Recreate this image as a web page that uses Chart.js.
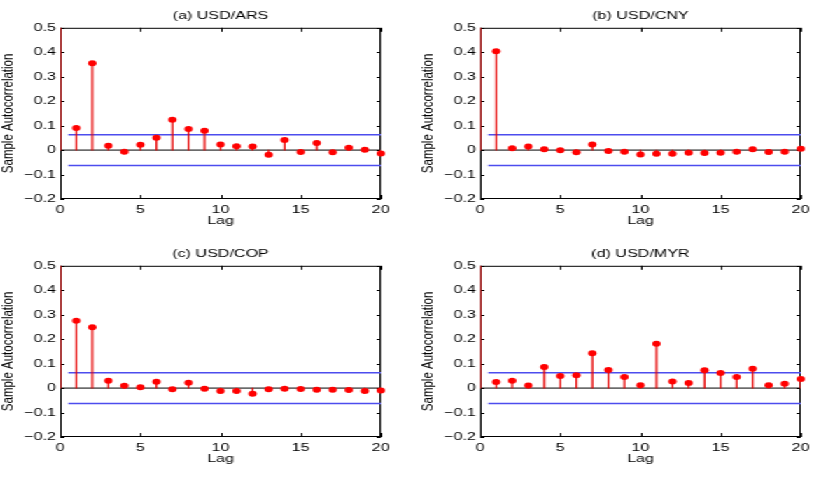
<!DOCTYPE html>
<html>
<head>
<meta charset="utf-8">
<script src="https://cdn.jsdelivr.net/npm/chart.js@4.4.0/dist/chart.umd.min.js"></script>
<style>
  html, body { margin: 0; padding: 0; background: #fff; overflow: hidden; }
  /* the original figure is stretched sideways, so draw narrow and widen */
  #stage { position: absolute; left: 0; top: 0; width: 584px; height: 478px; transform: scaleX(1.4); transform-origin: 0 0; }
  #stage canvas { position: absolute; }
</style>
</head>
<body>
<div id="stage">
  <canvas id="p-ars" width="284" height="235" style="left:0;top:0"></canvas>
  <canvas id="p-cny" width="284" height="235" style="left:300px;top:0"></canvas>
  <canvas id="p-cop" width="284" height="235" style="left:0;top:238px"></canvas>
  <canvas id="p-myr" width="284" height="235" style="left:300px;top:238px"></canvas>
</div>
<script>
const lags = [0, 1, 2, 3, 4, 5, 6, 7, 8, 9, 10, 11, 12, 13, 14, 15, 16, 17, 18, 19, 20];

const acfARS = [1, 0.090, 0.355, 0.018, -0.007, 0.022, 0.050, 0.124, 0.086, 0.079, 0.023,
                0.016, 0.015, -0.019, 0.041, -0.008, 0.029, -0.009, 0.010, 0.001, -0.014];
const acfCNY = [1, 0.404, 0.008, 0.015, 0.003, -0.001, -0.009, 0.023, -0.004, -0.007, -0.018,
                -0.015, -0.015, -0.011, -0.012, -0.011, -0.007, 0.003, -0.008, -0.007, 0.005];
const acfCOP = [1, 0.275, 0.249, 0.030, 0.010, 0.003, 0.026, -0.005, 0.022, -0.003, -0.012,
                -0.012, -0.023, -0.005, -0.003, -0.004, -0.007, -0.007, -0.008, -0.012, -0.010];
const acfMYR = [1, 0.025, 0.030, 0.011, 0.086, 0.049, 0.052, 0.142, 0.074, 0.045, 0.012,
                0.181, 0.027, 0.021, 0.073, 0.062, 0.045, 0.079, 0.012, 0.018, 0.037];

const bound = 0.063; // confidence bounds
const boundStart = 0.5;

const titles = ["(a) USD/ARS", "(b) USD/CNY", "(c) USD/COP", "(d) USD/MYR"];

const xTicks = [0, 5, 10, 15, 20];
const xTickLabels = ["0", "5", "10", "15", "20"];
const yTicks = [-0.2, -0.1, 0, 0.1, 0.2, 0.3, 0.4, 0.5];
const yTickLabels = ["\u22120.2", "\u22120.1", "0", "0.1", "0.2", "0.3", "0.4", "0.5"];

Chart.defaults.font.family = '"Liberation Sans", Arial, Helvetica, sans-serif';
Chart.defaults.font.size = 11;
Chart.defaults.color = "#000";

function labelFor(ticks, labels, value) {
    const i = ticks.findIndex(t => Math.abs(t - value) < 1e-9);
    return i >= 0 ? labels[i] : "";
}

// box around the axes with small inward tick marks, like MATLAB
const framePlugin = {
    id: "frame",
    beforeDatasetsDraw(chart) {
        const { ctx, chartArea: a, scales } = chart;
        ctx.save();
        ctx.strokeStyle = "#000";
        ctx.lineWidth = 1;
        ctx.strokeRect(a.left + 0.5, a.top + 0.5, a.right - a.left - 1, a.bottom - a.top - 1);
        ctx.beginPath();
        scales.x.ticks.forEach(t => {
            const px = Math.round(scales.x.getPixelForValue(t.value)) + 0.5;
            ctx.moveTo(px, a.bottom); ctx.lineTo(px, a.bottom - 4);
            ctx.moveTo(px, a.top); ctx.lineTo(px, a.top + 4);
        });
        scales.y.ticks.forEach(t => {
            const py = Math.round(scales.y.getPixelForValue(t.value)) + 0.5;
            ctx.moveTo(a.left, py); ctx.lineTo(a.left + 3, py);
            ctx.moveTo(a.right, py); ctx.lineTo(a.right - 3, py);
        });
        ctx.stroke();
        ctx.restore();
    }
};

function makePanel(id, title, values) {
    const pts = lags.map((l, i) => ({ x: l, y: values[i] }));
    new Chart(document.getElementById(id), {
        type: "scatter",
        data: {
            datasets: [
                {
                    type: "scatter",
                    data: pts.slice(1),
                    pointRadius: 3,
                    pointHoverRadius: 3,
                    backgroundColor: "#ff0000",
                    borderWidth: 0,
                    clip: false
                },
                {
                    type: "bar",
                    data: pts,
                    backgroundColor: "#e60000",
                    barThickness: 0.6,
                    clip: 0
                },
                {
                    type: "line",
                    data: [{ x: 0, y: 0 }, { x: 20, y: 0 }],
                    borderColor: "#000",
                    borderWidth: 1,
                    pointRadius: 0
                },
                {
                    type: "line",
                    data: [{ x: boundStart, y: bound }, { x: 20, y: bound }],
                    borderColor: "#4d4dee",
                    borderWidth: 1.6,
                    pointRadius: 0
                },
                {
                    type: "line",
                    data: [{ x: boundStart, y: -bound }, { x: 20, y: -bound }],
                    borderColor: "#4d4dee",
                    borderWidth: 1.6,
                    pointRadius: 0
                }
            ]
        },
        options: {
            responsive: false,
            animation: false,
            events: [],
            layout: { padding: { left: 0, right: 12, top: 0, bottom: 7 } },
            plugins: {
                legend: { display: false },
                tooltip: { enabled: false },
                title: {
                    display: true,
                    fullSize: false,
                    text: title,
                    color: "#000",
                    font: { size: 11.5, weight: "normal" },
                    padding: { top: 9, bottom: 5 }
                }
            },
            scales: {
                x: {
                    type: "linear",
                    min: 0,
                    max: 20,
                    offset: false,
                    grid: { display: false, drawTicks: false },
                    border: { display: false },
                    afterBuildTicks: s => { s.ticks = xTicks.map(v => ({ value: v })); },
                    ticks: {
                        padding: 4,
                        maxRotation: 0,
                        font: { size: 11.5 },
                        callback: v => labelFor(xTicks, xTickLabels, v)
                    },
                    title: { display: true, text: "Lag", font: { size: 11.5 }, padding: 0 },
                    afterFit: s => { s.height = 29; }
                },
                y: {
                    min: -0.2,
                    max: 0.5,
                    grid: { display: false, drawTicks: false },
                    border: { display: false },
                    afterBuildTicks: s => { s.ticks = yTicks.map(v => ({ value: v })); },
                    ticks: {
                        padding: 3,
                        font: { size: 11.5 },
                        callback: v => labelFor(yTicks, yTickLabels, v)
                    },
                    title: { display: true, text: "Sample Autocorrelation", font: { size: 11.5, lineHeight: 1 }, padding: 0 },
                    afterFit: s => { s.width = 43; }
                }
            }
        },
        plugins: [framePlugin]
    });
}

makePanel("p-ars", titles[0], acfARS);
makePanel("p-cny", titles[1], acfCNY);
makePanel("p-cop", titles[2], acfCOP);
makePanel("p-myr", titles[3], acfMYR);
</script>
</body>
</html>
